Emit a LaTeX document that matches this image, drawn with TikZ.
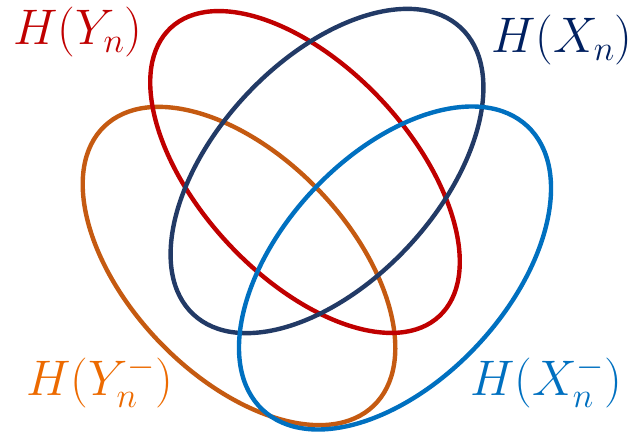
\RequirePackage{fix-cm}
\documentclass[tikz,border=0pt]{standalone}
\usepackage{amsmath,amssymb}
\usepackage{xcolor}
\definecolor{hyred}{HTML}{C00000}
\definecolor{hxnavy}{HTML}{223A66}
\definecolor{hxnavytxt}{HTML}{002060}
\definecolor{hyorange}{HTML}{C55A11}
\definecolor{hyorangetxt}{HTML}{EC6A00}
\definecolor{hxblue}{HTML}{0070C0}

\begin{document}
\begin{tikzpicture}[x=1pt, y=1pt,
  set/.style={line width=4.4pt},
  lbl/.style={anchor=base west, inner sep=0pt, font=\fontsize{50}{60}\selectfont}]
\useasboundingbox (0,0) rectangle (644,439);
% the four entropy sets
\draw[set, hyorange] (239,173) ellipse[x radius=194, y radius=110, rotate=-46];
\draw[set, hyred]    (305,267) ellipse[x radius=197, y radius=105, rotate=-47];
\draw[set, hxnavy]   (327,268) ellipse[x radius=196, y radius=111, rotate=47];
\draw[set, hxblue]   (395,171) ellipse[x radius=194, y radius=113, rotate=47];
% labels
\node[lbl, hyred]       (lblY)  at (13,394)  {$H(Y_n)$};
\node[lbl, hxnavytxt]   (lblX)  at (491,386) {$H(X_n)$};
\node[lbl, hyorangetxt] (lblYm) at (26,44)   {$H(Y_n^-)$};
\node[lbl, hxblue]      (lblXm) at (470,44)  {$H(X_n^-)$};
\end{tikzpicture}
\end{document}
